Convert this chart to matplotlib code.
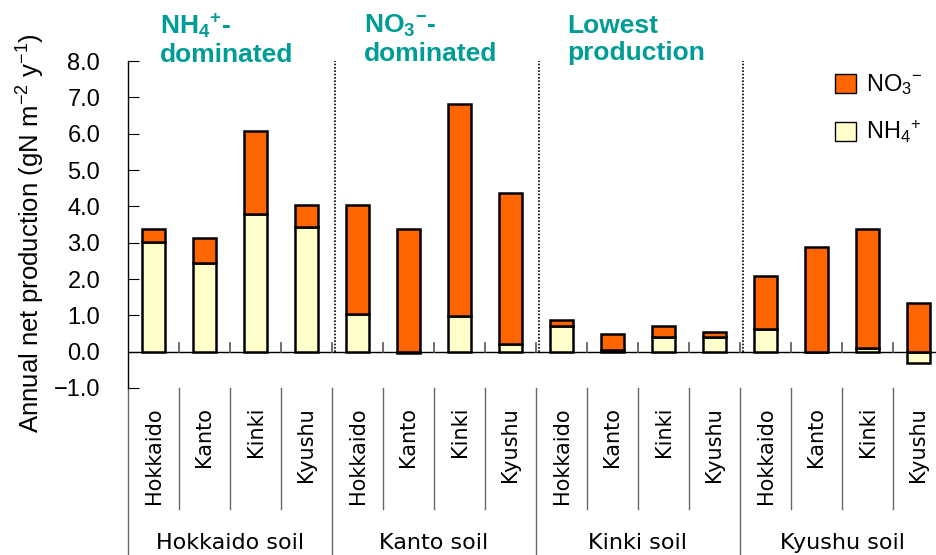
import matplotlib
matplotlib.use('Agg')
import matplotlib.pyplot as plt
from matplotlib.patches import Patch
import numpy as np

plt.rcParams['font.family'] = ['Liberation Sans', 'DejaVu Sans']
plt.rcParams['mathtext.default'] = 'regular'

# data (gN m-2 y-1)
soils = ['Hokkaido soil', 'Kanto soil', 'Kinki soil', 'Kyushu soil']
sites = ['Hokkaido', 'Kanto', 'Kinki', 'Kyushu']
nh4 = [3.03, 2.43, 3.79, 3.42,
       1.04, -0.05, 0.99, 0.20,
       0.72, 0.05, 0.40, 0.39,
       0.63, 0.00, 0.09, -0.32]
total_top = [3.37, 3.12, 6.07, 4.03,
             4.03, 3.37, 6.82, 4.36,
             0.87, 0.49, 0.72, 0.53,
             2.09, 2.89, 3.37, 1.33]
notes = [r'NH$_4$$^{+}$-' + '\ndominated', r'NO$_3$$^{-}$-' + '\ndominated',
         'Lowest\nproduction']

nh4 = np.array(nh4)
top = np.array(total_top)
no3_base = np.clip(nh4, 0, None)
no3 = top - no3_base

orange = '#FF6600'
cream = '#FFFFCC'
teal = '#009C96'

fig = plt.figure(figsize=(9.36, 5.55), dpi=100)
ax = fig.add_axes([128 / 936, 167 / 555, 816 / 936, 327 / 555])

x = np.arange(16) + 0.5
ax.bar(x, nh4, width=0.45, color=cream, edgecolor='black', linewidth=1.8, zorder=3)
ax.bar(x, no3, bottom=no3_base, width=0.45, color=orange, edgecolor='black',
       linewidth=1.8, zorder=3)

ax.set_xlim(0, 16)
ax.set_ylim(-1, 8)
ax.axhline(0, color='black', lw=1, zorder=2)
for sp in ['top', 'right', 'bottom']:
    ax.spines[sp].set_visible(False)
ax.spines['left'].set_linewidth(1)

yt = np.arange(-1, 9, 1)
ax.set_yticks(yt)
ax.set_yticklabels(['%.1f' % v if v >= 0 else '\u2212%.1f' % -v for v in yt], fontsize=17)
ax.tick_params(axis='y', direction='in', length=8, pad=20)
ax.set_xticks([])

# small ticks on the zero line at category boundaries
for b in range(1, 16):
    ax.plot([b, b], [0, 0.25], color='#555555', lw=1.2, zorder=2)

# dotted separators between soil groups
for b in [4, 8, 12]:
    ax.plot([b + 0.05, b + 0.05], [0, 8], color='black', lw=1.2, ls=(0, (1, 1)), zorder=2)

# category label area
for b in range(0, 17):
    if b % 4 == 0:
        ax.plot([b, b], [-1, -5.7], color='#666666', lw=1, clip_on=False)
    else:
        ax.plot([b, b], [-1, -4.33], color='#666666', lw=1, clip_on=False)

for i in range(16):
    ax.text(x[i], -1.52, sites[i % 4], rotation=90, ha='center', va='top',
            fontsize=15, family=['DejaVu Sans'])
for g in range(4):
    ax.text(4 * g + 2, -5.27, soils[g], ha='center', va='center', fontsize=16,
            family=['DejaVu Sans'])

ax.set_ylabel(r'Annual net production (gN m$^{-2}$ y$^{-1}$)', fontsize=18.5)
ax.yaxis.set_label_coords(-0.099, 0.475)

for g in range(3):
    ax.text(4 * g + 0.62, 8.6, notes[g], color=teal, fontsize=19, fontweight='bold',
            ha='left', va='center', linespacing=1.15)

handles = [Patch(facecolor=orange, edgecolor='black', lw=1),
           Patch(facecolor=cream, edgecolor='black', lw=1)]
ax.legend(handles, [r'NO$_3$$^{-}$', r'NH$_4$$^{+}$'], loc='upper right',
          bbox_to_anchor=(1.0, 1.03), frameon=False, fontsize=17,
          handlelength=0.85, handleheight=0.85, handletextpad=0.45, labelspacing=0.9)

fig.savefig('out.png', dpi=100)
